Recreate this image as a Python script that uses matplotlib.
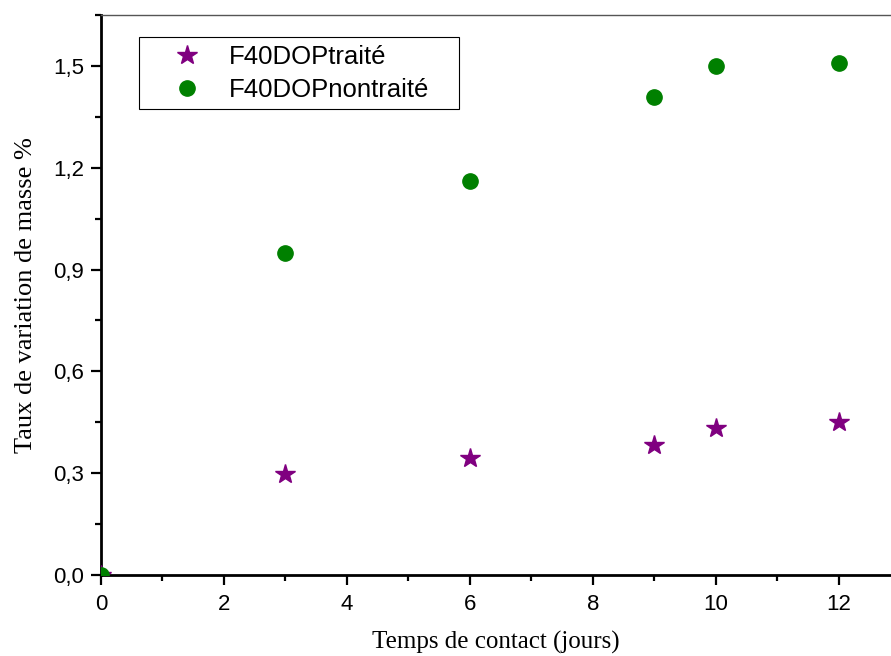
import matplotlib; matplotlib.use('Agg')
import matplotlib.pyplot as plt
from matplotlib.ticker import MultipleLocator, FuncFormatter
from matplotlib.lines import Line2D

# données
jours = [0, 3, 6, 9, 10, 12]
traite = [0.0, 0.298, 0.345, 0.383, 0.433, 0.451]
non_traite = [0.0, 0.949, 1.161, 1.409, 1.50, 1.509]

fig = plt.figure(figsize=(8.91, 6.56), dpi=100)
ax = fig.add_axes([101/891, 1-575/656, 1-101/891, (575-15)/656])

ax.plot(jours, traite, '*', color='#800080', ms=15, mec='#800080', zorder=3)
ax.plot(jours, non_traite, 'o', color='#008000', ms=11, mec='#008000', zorder=4)

ax.set_xlim(0, 12.85); ax.set_ylim(0, 1.65)
ax.xaxis.set_major_locator(MultipleLocator(2)); ax.xaxis.set_minor_locator(MultipleLocator(1))
ax.yaxis.set_major_locator(MultipleLocator(0.3)); ax.yaxis.set_minor_locator(MultipleLocator(0.15))
ax.yaxis.set_major_formatter(FuncFormatter(lambda v, p: f"{v:.1f}".replace('.', ',')))
ax.tick_params(which='major', direction='out', length=7, width=1.6, labelsize=16)
ax.tick_params(axis='x', which='major', pad=7)
ax.tick_params(axis='y', which='major', pad=5)
ax.tick_params(which='minor', direction='out', length=4, width=1.6)
for t in ax.get_xticklabels() + ax.get_yticklabels(): t.set_family('Liberation Sans')
ax.spines['left'].set_linewidth(2); ax.spines['bottom'].set_linewidth(2)
ax.spines['top'].set_linewidth(1); ax.spines['top'].set_color('#555555')
ax.spines['right'].set_visible(False)

ax.set_xlabel('Temps de contact (jours)', family='Liberation Serif', fontsize=18, labelpad=11)
ax.set_ylabel('Taux de variation de masse %', family='Liberation Serif', fontsize=19, labelpad=12)

h = [Line2D([], [], ls='', marker='*', color='#800080', ms=15),
     Line2D([], [], ls='', marker='o', color='#008000', ms=11)]
leg = ax.legend(h, ['F40DOPtraité', 'F40DOPnontraité'], loc='upper left',
                bbox_to_anchor=(38/790, 0, 320/790, 538/560), mode='expand', borderaxespad=0,
                prop={'family': 'Liberation Sans', 'size': 18.5}, fancybox=False, edgecolor='black',
                framealpha=1, borderpad=0.3, handletextpad=0.1, labelspacing=0.35, handlelength=3.1)
leg.get_frame().set_linewidth(0.8)

fig.savefig('out.png', dpi=100)
